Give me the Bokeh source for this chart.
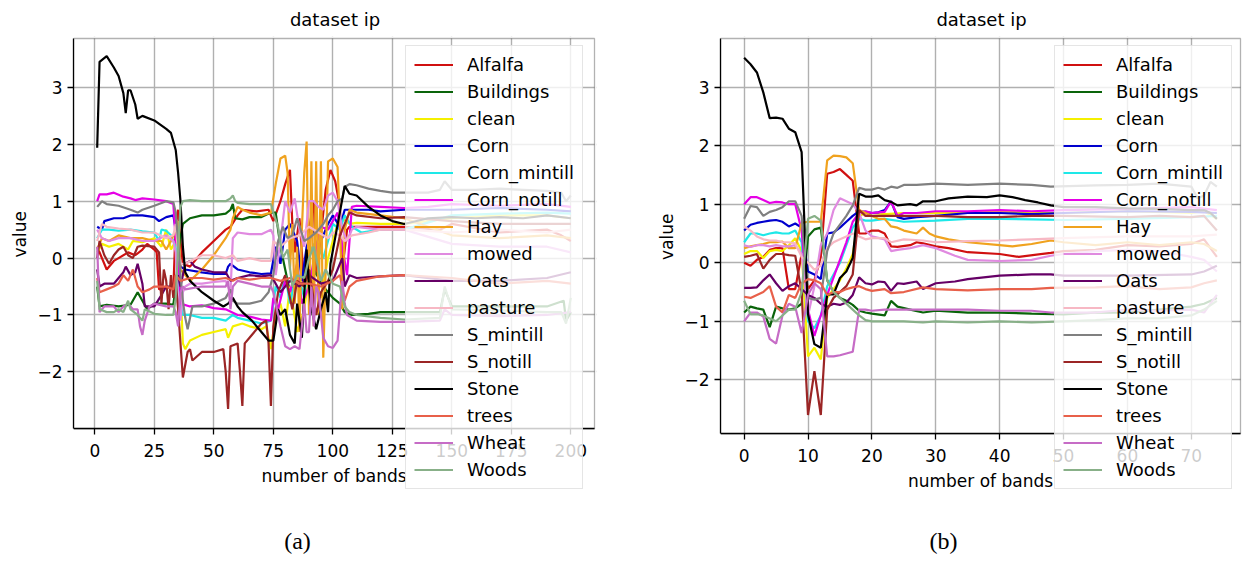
from bokeh.plotting import figure
from bokeh.models import Legend, LegendItem, Label, FixedTicker, Range1d, BoxAnnotation, Title
from bokeh.layouts import row
from bokeh.embed import file_html
from bokeh.resources import INLINE

NAMES = ["Alfalfa", "Buildings", "clean", "Corn", "Corn_mintill", "Corn_notill", "Hay",
         "mowed", "Oats", "pasture", "S_mintill", "S_notill", "Stone", "trees", "Wheat", "Woods"]
COLORS = ["#d01010", "#0a640a", "#f5f000", "#0000cd", "#1ee8e8", "#e600e6", "#f0a21e",
          "#e08ae0", "#660066", "#f7b8c4", "#808080", "#9b2525", "#000000", "#e8604a",
          "#c66cc6", "#88b088"]

# ---------------- panel (a): (band, value) ----------------
A_ALFALFA = [(1,0.2),(3,0.0),(5,-0.2),(8,-0.05),(10,0.0),(14,0.1),(17,0.05),(20,0.15),(22,0.25),(25,0.15),(26,0.1),(27,-0.55),(30,-0.5),(33,-0.55),(34,0.6),(35,0.85),(36,0.3),(37,-0.1),(40,-0.15),(45,0.1),(50,0.3),(55,0.5),(57,0.55),(60,0.75),(62,0.85),(68,0.82),(73,0.85),(75,0.65),(78,1.0),(80,1.3),(82,1.55),(83,0.6),(84,0.1),(86,0.7),(88,-0.5),(90,0.5),(92,1.0),(93,-0.3),(95,0.4),(97,1.2),(99,1.55),(101,1.35),(103,0.9),(104,-0.2),(106,0.5),(107,0.55),(115,0.55),(130,0.55),(145,0.5),(150,0.6),(170,0.45),(190,0.5),(196,0.4),(200,0.3)]
A_BUILDINGS = [(1,-0.5),(2,-0.85),(5,-0.82),(10,-0.85),(15,-0.82),(18,-0.6),(20,-0.75),(22,-0.9),(25,-0.8),(30,-0.8),(33,-0.82),(34,-0.5),(35,0.0),(36,0.35),(37,0.6),(40,0.7),(45,0.75),(50,0.75),(55,0.78),(57,0.85),(58,0.95),(59,0.7),(62,0.68),(65,0.72),(70,0.72),(74,0.8),(76,0.8),(78,0.2),(80,-0.2),(82,-0.6),(85,-0.4),(88,-0.3),(92,-0.2),(96,-0.5),(100,-0.7),(103,-0.8),(105,-0.95),(108,-1.0),(115,-0.98),(120,-0.95),(130,-0.95),(145,-0.95),(147,-0.55),(150,-0.85),(170,-0.85),(190,-0.85),(197,-0.75),(198,-1.1),(200,-0.95)]
A_CLEAN = [(1,0.1),(3,0.25),(6,0.2),(10,0.25),(14,0.15),(16,0.3),(20,0.28),(25,0.35),(28,0.2),(30,0.5),(32,0.15),(34,0.3),(36,-0.5),(37,-1.5),(38,-1.6),(40,-1.45),(45,-1.35),(50,-1.3),(55,-1.25),(56,-1.4),(58,-1.2),(62,-1.15),(65,-1.2),(70,-1.25),(72,-1.2),(74,-1.6),(76,-1.0),(78,-0.8),(80,-1.2),(82,-0.5),(85,-1.3),(88,-0.9),(90,-0.3),(95,-0.7),(98,0.0),(100,0.3),(102,0.6),(104,0.7),(107,0.6),(110,0.62),(120,0.6),(130,0.6),(150,0.7),(170,0.75),(190,0.75),(200,0.7)]
A_CORN = [(1,0.55),(3,0.5),(4,0.65),(8,0.7),(12,0.7),(15,0.75),(20,0.75),(25,0.72),(27,0.65),(30,0.72),(33,0.75),(34,0.5),(35,0.3),(36,-0.15),(38,-0.2),(45,-0.25),(50,-0.28),(55,-0.28),(56,-0.15),(57,-0.1),(60,-0.2),(65,-0.25),(70,-0.28),(74,-0.27),(76,0.2),(78,-0.1),(80,0.5),(82,0.6),(85,0.3),(87,-0.4),(89,0.2),(92,0.5),(95,0.3),(98,0.6),(100,0.75),(103,0.55),(105,0.85),(108,0.85),(115,0.85),(120,0.82),(130,0.85),(150,0.85),(170,0.88),(190,0.85),(200,0.82)]
A_CORN_MINTILL = [(1,0.35),(3,0.5),(6,0.5),(10,0.48),(15,0.5),(20,0.47),(25,0.45),(27,0.3),(28,0.5),(30,0.48),(32,0.4),(34,0.2),(35,-0.2),(36,-0.8),(37,-1.0),(40,-1.0),(45,-1.05),(50,-1.05),(55,-1.1),(58,-1.0),(60,-1.05),(65,-1.1),(70,-1.15),(74,-1.1),(76,-0.5),(78,-0.7),(80,-0.3),(82,-0.8),(85,-0.2),(88,-0.7),(90,0.1),(93,0.3),(96,0.0),(100,0.6),(103,0.5),(105,0.75),(108,0.55),(112,0.45),(120,0.5),(130,0.5),(150,0.75),(170,0.78),(190,0.8),(200,0.78)]
A_CORN_NOTILL = [(1,1.0),(2,1.12),(5,1.12),(8,1.15),(12,1.08),(15,1.05),(17,1.02),(20,1.05),(25,1.03),(30,1.0),(33,0.95),(34,0.3),(35,0.2),(36,-0.8),(40,-0.85),(45,-0.83),(50,-0.88),(55,-0.9),(60,-1.0),(65,-1.03),(70,-1.08),(74,-1.1),(75,-0.7),(77,-0.9),(80,-0.4),(82,-0.6),(85,-0.1),(87,-0.8),(90,-0.5),(93,0.2),(95,0.55),(98,0.5),(100,0.65),(102,0.8),(104,0.2),(106,-0.3),(108,0.9),(110,0.92),(120,0.9),(130,0.88),(140,0.9),(150,0.95),(170,0.92),(190,0.95),(200,0.9)]
A_HAY = [(1,0.15),(3,0.35),(6,0.3),(10,0.4),(15,0.35),(20,0.35),(25,0.3),(28,0.3),(30,0.15),(32,0.3),(34,0.5),(35,0.65),(36,-0.2),(38,-0.3),(40,-0.4),(45,-0.2),(50,0.05),(55,0.35),(57,0.5),(58,0.7),(60,0.9),(62,0.85),(65,0.8),(70,0.75),(74,0.8),(76,1.3),(78,1.75),(80,1.8),(81,1.5),(82,-0.2),(83,0.6),(84,-0.8),(85,0.2),(86,-1.3),(87,0.5),(88,1.5),(89,2.05),(90,-1.0),(91,1.7),(92,-1.2),(93,1.7),(94,-1.0),(95,1.7),(96,-1.75),(97,-0.2),(98,1.7),(100,1.75),(102,1.6),(103,0.6),(104,-0.9),(105,0.5),(107,0.85),(110,0.8),(120,0.75),(130,0.7),(150,0.4),(170,0.35),(190,0.4),(200,0.35)]
A_MOWED = [(1,0.5),(3,0.35),(6,0.3),(10,0.35),(15,0.35),(20,0.3),(25,0.3),(30,0.4),(33,0.3),(34,0.1),(35,-0.8),(36,-1.1),(37,-0.6),(38,-0.5),(40,-0.45),(45,-0.45),(50,-0.42),(55,-0.4),(57,-0.6),(58,0.35),(60,0.45),(65,0.42),(70,0.42),(74,0.5),(75,0.4),(76,-0.3),(78,0.3),(80,1.0),(82,0.8),(84,1.05),(86,0.5),(88,0.2),(90,1.0),(92,1.0),(94,0.9),(96,0.85),(98,1.1),(100,1.15),(102,1.0),(104,0.5),(106,0.3),(108,0.5),(110,0.55),(120,0.5),(130,0.5),(150,0.25),(170,0.2),(190,0.2),(200,0.1)]
A_OATS = [(1,-0.2),(2,-0.5),(4,-0.45),(8,-0.45),(10,-0.35),(12,-0.25),(13,-0.15),(15,-0.3),(17,-0.25),(18,-0.1),(20,-0.45),(21,-0.85),(25,-0.85),(28,-0.65),(30,-0.5),(33,-0.5),(35,-0.3),(36,-0.5),(38,-0.1),(40,-0.05),(42,-0.15),(45,-0.2),(50,-0.25),(55,-0.25),(57,-0.4),(60,-0.35),(65,-0.3),(70,-0.32),(74,-0.3),(78,-0.6),(82,-0.4),(86,-0.5),(90,-0.3),(95,-0.45),(100,-0.4),(103,-0.1),(104,0.0),(105,-0.5),(107,-0.3),(110,-0.35),(120,-0.32),(130,-0.3),(150,-0.4),(170,-0.4),(190,-0.35),(200,-0.25)]
A_PASTURE = [(1,0.3),(3,0.6),(5,0.55),(10,0.52),(15,0.5),(20,0.45),(25,0.45),(30,0.35),(33,0.4),(34,0.6),(35,0.1),(36,-0.1),(38,-0.1),(45,0.05),(50,0.05),(55,0.0),(58,0.05),(60,-0.05),(65,0.0),(70,-0.05),(74,-0.05),(75,0.3),(78,0.2),(82,0.35),(86,0.4),(90,0.55),(94,0.45),(98,0.35),(100,0.45),(103,0.4),(105,0.3),(108,0.4),(115,0.45),(120,0.5),(130,0.5),(150,0.45),(170,0.5),(190,0.45),(200,0.5)]
A_S_MINTILL = [(1,0.9),(3,1.0),(5,0.95),(10,0.92),(15,0.85),(18,0.8),(20,0.85),(25,0.92),(30,1.0),(33,0.98),(34,0.8),(35,0.3),(36,-0.3),(37,-0.75),(38,-1.05),(39,-1.25),(41,-0.85),(45,-0.85),(50,-0.8),(55,-0.7),(57,-0.55),(58,-0.75),(60,-0.8),(65,-0.8),(70,-0.75),(73,-0.6),(75,-0.3),(77,0.3),(79,0.55),(81,0.35),(83,0.4),(85,0.7),(88,0.3),(90,0.35),(93,0.45),(96,0.6),(98,0.75),(100,0.85),(102,1.0),(104,1.05),(105,1.25),(107,1.3),(110,1.28),(115,1.22),(120,1.18),(125,1.15),(130,1.15),(140,1.15),(145,1.2),(147,1.35),(150,1.2),(160,1.2),(170,1.22),(180,1.2),(190,1.18),(196,1.15),(198,1.0),(200,1.1)]
A_S_NOTILL = [(1,0.0),(2,0.3),(4,0.05),(6,-0.1),(8,0.05),(10,0.15),(12,0.2),(14,0.05),(16,0.0),(18,0.2),(20,0.22),(25,0.2),(27,0.1),(28,-0.8),(29,-0.2),(30,-0.4),(31,-0.9),(32,-0.3),(33,-0.7),(34,-0.4),(35,-0.9),(36,-1.5),(37,-2.1),(39,-1.65),(40,-1.6),(41,-1.8),(45,-1.65),(50,-1.65),(54,-1.6),(55,-2.0),(56,-2.65),(57,-1.55),(60,-1.5),(61,-2.0),(62,-2.6),(63,-1.5),(65,-1.4),(70,-1.15),(72,-1.1),(73,-1.5),(74,-2.6),(75,-1.2),(77,-0.6),(80,-0.3),(83,-0.9),(85,-0.4),(88,-0.5),(90,-0.2),(93,-1.0),(95,-0.6),(98,-0.4),(100,-0.2),(103,0.4),(105,0.6),(107,0.8),(110,0.75),(120,0.7),(130,0.72),(150,0.65),(170,0.6),(190,0.6),(200,0.6)]
A_STONE = [(1,1.94),(2,3.45),(5,3.55),(8,3.35),(10,3.2),(12,2.9),(13,2.55),(14,2.95),(15,2.95),(17,2.7),(18,2.45),(20,2.5),(25,2.42),(30,2.27),(32,2.2),(34,1.9),(35,1.5),(36,1.0),(37,0.2),(38,-0.25),(40,-0.4),(45,-0.6),(50,-0.75),(54,-0.85),(56,-0.8),(58,-0.7),(60,-0.85),(62,-0.95),(66,-1.1),(70,-1.3),(73,-1.45),(75,-1.45),(77,-0.9),(78,-1.0),(80,-0.9),(82,-1.35),(84,-1.5),(85,-0.8),(87,-1.4),(89,0.15),(90,-0.5),(91,-0.9),(93,-1.25),(95,-0.9),(97,-0.6),(98,-0.95),(99,-0.1),(105,1.27),(107,1.13),(110,1.1),(115,0.9),(120,0.75),(125,0.65),(130,0.6),(140,0.7),(150,0.72),(160,0.7),(170,0.72),(180,0.7),(190,0.75),(200,0.7)]
A_TREES = [(1,-0.35),(2,-0.6),(5,-0.55),(8,-0.5),(10,-0.45),(12,-0.3),(14,-0.4),(16,-0.2),(18,-0.5),(20,-0.6),(23,-0.55),(25,-0.5),(30,-0.5),(33,-0.55),(34,-0.3),(35,-0.35),(36,-0.4),(40,-0.35),(45,-0.35),(50,-0.38),(55,-0.35),(58,-0.4),(60,-0.35),(65,-0.38),(70,-0.35),(74,-0.35),(78,-0.4),(82,-0.35),(86,-0.45),(90,-0.45),(95,-0.5),(100,-0.4),(103,-0.3),(105,-0.75),(107,-0.5),(110,-0.4),(120,-0.32),(130,-0.3),(150,-0.35),(170,-0.45),(190,-0.4),(200,-0.45)]
A_WHEAT = [(1,0.2),(2,-0.95),(4,-0.85),(8,-0.85),(10,-0.95),(12,-0.85),(14,-0.8),(16,-0.9),(18,-0.9),(19,-1.2),(20,-1.35),(21,-1.1),(23,-0.85),(25,-0.8),(30,-0.85),(33,-0.85),(34,-0.95),(35,-1.2),(36,-0.6),(37,-0.5),(38,-0.55),(45,-0.5),(50,-0.5),(55,-0.5),(56,-0.4),(57,-0.9),(58,-0.5),(60,-0.4),(65,-0.45),(70,-0.5),(74,-0.5),(75,-0.6),(78,-1.2),(80,-1.55),(82,-1.6),(84,-1.55),(86,-1.6),(88,-0.8),(89,-1.3),(90,-1.3),(91,-0.5),(92,-1.2),(93,-0.5),(94,-0.6),(96,-1.4),(98,-1.55),(100,-1.58),(102,-1.45),(103,-0.9),(104,-0.4),(105,-0.8),(106,-1.0),(110,-1.1),(120,-1.12),(130,-1.12),(145,-1.1),(147,-0.9),(150,-1.0),(170,-1.02),(190,-1.0),(200,-0.95)]
A_WOODS = [(1,-0.4),(2,-0.9),(5,-0.95),(8,-0.95),(10,-0.9),(12,-0.95),(14,-0.75),(15,-0.9),(18,-1.0),(20,-1.1),(21,-0.9),(25,-0.98),(30,-1.0),(33,-1.0),(34,-0.7),(35,0.2),(36,0.9),(37,1.0),(40,1.02),(45,1.0),(50,1.0),(55,1.0),(57,1.05),(58,1.1),(59,1.0),(60,0.97),(65,0.95),(70,0.95),(74,0.95),(75,0.8),(77,0.55),(79,0.0),(81,0.15),(83,-0.5),(85,-0.3),(88,-0.35),(90,0.0),(92,0.2),(95,-0.4),(97,-0.2),(100,-0.45),(103,-0.5),(105,-0.85),(107,-0.95),(110,-1.0),(120,-1.05),(130,-1.08),(145,-1.05),(147,-0.5),(150,-0.9),(170,-0.92),(190,-0.95),(196,-0.95),(198,-1.15),(200,-0.7)]

# ---------------- panel (b): (band, value) ----------------
B_ALFALFA = [(0,0.0),(1,-0.05),(2,0.05),(3,0.1),(4,0.22),(5,0.25),(6,0.25),(7,-0.45),(8,-0.45),(9,0.15),(10,-0.45),(11,-0.3),(12,0.1),(13,1.52),(14,1.55),(15,1.6),(16,1.5),(17,1.4),(18,0.5),(19,0.5),(20,0.55),(21,0.55),(22,0.5),(23,0.28),(24,0.27),(26,0.3),(27,0.35),(28,0.33),(30,0.28),(32,0.25),(35,0.18),(40,0.15),(43,0.1),(48,0.17),(50,0.2),(55,0.22),(60,0.3),(65,0.28),(70,0.32),(72,0.4),(74,0.1)]
B_BUILDINGS = [(0,-0.85),(1,-0.75),(2,-0.78),(3,-0.8),(4,-1.1),(5,-0.75),(6,-0.78),(7,-0.8),(8,-0.78),(9,-0.7),(10,0.45),(11,0.57),(12,0.6),(13,-0.3),(14,-0.5),(15,-0.6),(16,-0.65),(17,-0.72),(18,-0.82),(19,-0.85),(20,-0.87),(22,-0.9),(23,-0.65),(24,-0.75),(26,-0.8),(28,-0.85),(30,-0.82),(35,-0.85),(40,-0.85),(45,-0.87),(50,-0.88),(55,-0.85),(60,-0.85),(65,-0.8),(70,-0.75),(72,-0.7),(74,-0.6)]
B_CLEAN = [(0,0.15),(1,0.2),(2,0.2),(3,0.08),(4,0.2),(5,0.22),(6,0.2),(7,0.3),(8,0.42),(9,0.2),(10,-1.6),(11,-1.45),(12,-1.65),(13,-0.6),(14,-0.45),(15,-0.3),(16,-0.1),(17,0.15),(18,0.8),(19,0.85),(20,0.85),(22,0.83),(25,0.85),(30,0.85),(35,0.85),(40,0.88),(45,0.85),(50,0.85),(60,0.88),(70,0.85),(72,0.88),(74,0.75)]
B_CORN = [(0,0.55),(1,0.65),(2,0.68),(3,0.7),(4,0.72),(5,0.73),(6,0.7),(7,0.62),(8,0.67),(9,0.6),(10,-0.15),(11,-0.2),(12,-0.28),(13,0.5),(14,0.52),(15,0.6),(16,0.7),(17,0.8),(18,0.88),(19,0.87),(20,0.85),(21,0.86),(22,0.9),(23,1.05),(24,0.78),(25,0.75),(27,0.78),(30,0.8),(35,0.85),(40,0.85),(45,0.83),(50,0.85),(60,0.88),(70,0.87),(74,0.85)]
B_CORN_MINTILL = [(0,0.35),(1,0.5),(2,0.5),(3,0.47),(4,0.5),(5,0.52),(6,0.5),(7,0.5),(8,0.55),(9,0.35),(10,-1.0),(11,-1.12),(12,-0.9),(13,-0.4),(14,-0.2),(15,0.0),(16,0.3),(17,0.6),(18,0.75),(19,0.72),(20,0.72),(22,0.75),(25,0.7),(30,0.72),(35,0.75),(40,0.75),(45,0.74),(50,0.73),(60,0.75),(70,0.78),(74,0.8)]
B_CORN_NOTILL = [(0,1.0),(1,1.12),(2,1.12),(3,1.07),(4,1.02),(5,1.04),(6,1.03),(7,1.0),(8,1.0),(9,0.55),(10,-0.8),(11,-1.25),(12,-0.9),(13,-0.55),(14,-0.25),(15,0.05),(16,0.35),(17,0.7),(18,0.85),(19,0.88),(20,0.85),(21,0.86),(22,0.87),(23,1.05),(24,0.8),(25,0.85),(27,0.85),(30,0.88),(35,0.88),(40,0.9),(45,0.88),(50,0.9),(60,0.92),(70,0.95),(74,0.9)]
B_HAY = [(0,0.25),(1,0.28),(2,0.3),(3,0.32),(4,0.35),(5,0.35),(6,0.36),(7,0.25),(8,0.25),(9,0.68),(10,0.7),(11,0.7),(12,0.7),(13,1.75),(14,1.83),(15,1.82),(16,1.8),(17,1.7),(18,0.9),(19,0.85),(20,0.8),(21,0.75),(22,0.75),(23,0.62),(24,0.6),(25,0.55),(27,0.5),(28,0.6),(29,0.5),(30,0.45),(32,0.4),(35,0.35),(40,0.3),(42,0.28),(45,0.32),(48,0.38),(50,0.35),(55,0.3),(60,0.35),(65,0.3),(70,0.35),(72,0.32),(74,0.2)]
B_MOWED = [(0,0.3),(1,0.27),(2,0.3),(3,0.3),(4,0.28),(5,0.3),(6,0.28),(7,0.28),(8,0.3),(9,0.15),(10,-0.9),(11,-0.4),(12,0.3),(13,0.5),(14,0.9),(15,1.1),(16,1.05),(17,1.0),(18,0.85),(19,0.55),(20,0.45),(22,0.4),(23,0.2),(24,0.22),(26,0.25),(28,0.3),(30,0.25),(33,0.12),(35,0.05),(40,0.03),(45,0.05),(48,0.12),(50,0.15),(55,0.2),(60,0.22),(65,0.2),(70,0.1),(72,0.05),(74,-0.15)]
B_OATS = [(0,-0.43),(1,-0.43),(2,-0.42),(3,-0.3),(4,-0.2),(5,-0.35),(6,-0.48),(7,-0.4),(8,-0.35),(9,-0.45),(10,-0.55),(11,-0.6),(12,-0.7),(13,-0.75),(14,-0.7),(15,-0.72),(16,-0.68),(17,-0.55),(18,-0.25),(19,-0.35),(20,-0.37),(21,-0.32),(22,-0.33),(23,-0.48),(24,-0.35),(25,-0.36),(27,-0.32),(28,-0.45),(30,-0.35),(33,-0.32),(35,-0.28),(40,-0.22),(45,-0.2),(48,-0.2),(50,-0.22),(60,-0.22),(70,-0.2),(72,-0.15),(74,-0.05)]
B_PASTURE = [(0,0.62),(1,0.55),(2,0.45),(3,0.4),(4,0.38),(5,0.38),(6,0.35),(7,0.35),(8,0.33),(9,0.1),(10,0.0),(11,-0.12),(12,-0.05),(13,0.25),(14,0.35),(15,0.4),(16,0.45),(17,0.5),(18,0.45),(19,0.4),(20,0.42),(22,0.42),(23,0.35),(25,0.4),(28,0.38),(30,0.35),(35,0.37),(40,0.38),(45,0.4),(50,0.42),(60,0.45),(70,0.45),(74,0.48)]
B_S_MINTILL = [(0,0.75),(1,0.97),(2,0.95),(3,0.8),(4,0.87),(5,0.9),(6,0.95),(7,1.05),(8,1.05),(9,0.8),(10,-0.6),(11,-0.63),(12,-0.6),(13,0.2),(14,0.5),(15,0.65),(16,0.8),(17,0.98),(18,1.28),(19,1.25),(20,1.25),(21,1.28),(22,1.25),(23,1.3),(24,1.28),(25,1.33),(27,1.33),(30,1.35),(35,1.33),(40,1.35),(45,1.33),(48,1.3),(55,1.32),(60,1.33),(65,1.35),(70,1.3),(71,1.1),(72,1.15),(73,1.38),(74,1.3)]
B_S_NOTILL = [(0,0.1),(1,0.12),(2,0.15),(3,-0.1),(4,0.05),(5,0.15),(6,0.15),(7,0.13),(8,0.12),(9,-0.5),(10,-2.6),(11,-1.85),(12,-2.6),(13,-0.8),(14,-0.6),(15,-0.5),(16,-0.4),(17,-0.2),(18,0.9),(19,0.8),(20,0.8),(25,0.8),(30,0.8),(35,0.78),(40,0.78),(45,0.8),(50,0.8),(60,0.78),(65,0.8),(70,0.78),(72,0.8),(74,0.55)]
B_STONE = [(0,3.5),(1,3.39),(2,3.25),(3,2.91),(4,2.47),(5,2.48),(6,2.46),(7,2.29),(8,2.23),(9,1.89),(10,-0.88),(11,-1.39),(12,-1.45),(13,-0.54),(14,-0.54),(15,-0.26),(16,-0.15),(17,0.08),(18,1.18),(19,1.13),(20,1.13),(21,1.15),(22,1.07),(23,1.04),(24,0.98),(26,1.0),(27,0.98),(28,1.05),(30,1.05),(32,1.1),(35,1.13),(38,1.12),(40,1.15),(42,1.12),(44,1.07),(46,1.03),(48,0.98),(50,0.95),(55,0.95),(60,0.93),(65,0.92),(70,0.9),(72,0.9),(73,0.85),(74,0.75)]
B_TREES = [(0,-0.58),(1,-0.6),(2,-0.55),(3,-0.5),(4,-0.4),(5,-0.75),(6,-0.85),(7,-0.55),(8,-0.6),(9,-0.35),(10,-0.28),(11,-0.3),(12,-0.35),(13,-0.55),(14,-0.5),(15,-0.5),(16,-0.45),(17,-0.42),(18,-0.4),(19,-0.45),(20,-0.48),(22,-0.45),(23,-0.52),(25,-0.5),(28,-0.42),(30,-0.45),(35,-0.47),(40,-0.45),(45,-0.45),(48,-0.43),(55,-0.42),(60,-0.4),(65,-0.45),(70,-0.42),(72,-0.35),(74,-0.3)]
B_WHEAT = [(0,-1.0),(1,-0.85),(2,-0.85),(3,-0.92),(4,-1.3),(5,-1.38),(6,-0.9),(7,-0.7),(8,-0.75),(9,-1.2),(10,-0.55),(11,-0.35),(12,-0.45),(13,-1.6),(14,-1.6),(15,-1.58),(16,-1.55),(17,-1.52),(18,-0.8),(19,-0.8),(20,-0.82),(22,-0.8),(25,-0.8),(30,-0.8),(35,-0.8),(40,-0.82),(45,-0.82),(48,-0.85),(55,-0.85),(60,-0.8),(65,-0.82),(70,-0.8),(72,-0.85),(74,-0.55)]
B_WOODS = [(0,-0.65),(1,-0.88),(2,-0.88),(3,-0.9),(4,-0.95),(5,-1.0),(6,-0.9),(7,-0.8),(8,-0.8),(9,-0.5),(10,0.75),(11,0.8),(12,0.72),(13,-0.3),(14,-0.5),(15,-0.6),(16,-0.7),(17,-0.8),(18,-0.9),(19,-0.98),(20,-1.0),(25,-1.0),(28,-1.02),(30,-1.0),(35,-1.02),(40,-1.0),(45,-1.02),(50,-1.0),(55,-0.98),(60,-0.95),(65,-0.95),(70,-0.9),(72,-0.8),(74,-0.65)]

A_SERIES = [A_ALFALFA, A_BUILDINGS, A_CLEAN, A_CORN, A_CORN_MINTILL, A_CORN_NOTILL, A_HAY, A_MOWED,
            A_OATS, A_PASTURE, A_S_MINTILL, A_S_NOTILL, A_STONE, A_TREES, A_WHEAT, A_WOODS]
B_SERIES = [B_ALFALFA, B_BUILDINGS, B_CLEAN, B_CORN, B_CORN_MINTILL, B_CORN_NOTILL, B_HAY, B_MOWED,
            B_OATS, B_PASTURE, B_S_MINTILL, B_S_NOTILL, B_STONE, B_TREES, B_WHEAT, B_WOODS]

A_XTICKS = [0, 25, 50, 75, 100, 125, 150, 175, 200]
B_XTICKS = [0, 10, 20, 30, 40, 50, 60, 70]
Y_TICKS = [-2, -1, 0, 1, 2, 3]
A_XLIM = (-8.95, 209.95)
A_YLIM = (-3.0, 3.86)
B_XLIM = (-3.7, 77.7)
B_YLIM = (-2.92, 3.83)

FONT = "DejaVu Sans"
FIG_H = 556
FRAME_TOP = 35
LEG_PAD = 8
LEG_ITEM = 21
LEG_GAP = 6


def make_panel(series, xlim, ylim, xticks, fig_left, fig_w, spine_l, spine_r, spine_t, spine_b,
               frame_r, legend_left, legend_top, tag, tag_x, tag_y):
    x0, x1 = xlim
    y0, y1 = ylim
    sx = (spine_r - spine_l) / (x1 - x0)
    sy = (spine_b - spine_t) / (y1 - y0)
    xr = Range1d(x0, x1 + (frame_r - spine_r) / sx)
    yr = Range1d(y0 - (FIG_H - spine_b) / sy, y1 + (spine_t - FRAME_TOP) / sy)

    p = figure(width=fig_w, height=FIG_H, x_range=xr, y_range=yr,
               output_backend="svg", toolbar_location=None,
               min_border_left=spine_l - fig_left, min_border_right=fig_left + fig_w - frame_r,
               min_border_top=FRAME_TOP, min_border_bottom=0)
    p.title.text = "dataset ip"
    p.title.align = "center"
    p.title.text_font = FONT
    p.title.text_font_size = "18px"
    p.title.text_font_style = "normal"
    p.title.text_color = "black"
    p.title.standoff = 13
    p.background_fill_color = "white"
    p.border_fill_color = "white"
    p.outline_line_color = None

    for ax in (p.xaxis[0], p.yaxis[0]):
        ax.major_label_text_font = FONT
        ax.major_label_text_font_size = "17px"
        ax.major_label_text_color = "black"
        ax.axis_line_color = "black"
        ax.axis_line_width = 1.3
        ax.major_tick_line_color = "black"
        ax.major_tick_line_width = 1.3
        ax.major_tick_out = 6
        ax.major_tick_in = 0
        ax.minor_tick_line_color = None
    p.xaxis.major_label_standoff = 9
    p.xaxis.ticker = FixedTicker(ticks=xticks)
    p.yaxis.ticker = FixedTicker(ticks=Y_TICKS)
    p.yaxis.major_label_overrides = {t: ("\u2212%d" % -t if t < 0 else str(t)) for t in Y_TICKS}
    p.xaxis.fixed_location = y0
    p.xaxis.bounds = (x0, x1)
    p.yaxis.bounds = (y0, y1)
    p.grid.grid_line_color = "#b0b0b0"
    p.grid.grid_line_width = 1.4

    # y-axis label as a vertical title in the left panel, centred on the axes box
    text_half = 23
    p.add_layout(Title(text="value", align="right",
                       offset=(spine_t + spine_b) / 2 - text_half - FRAME_TOP,
                       text_font=FONT, text_font_size="17px", text_font_style="normal",
                       text_color="black", standoff=10), "left")

    # hide grid outside the axes box
    for kw in (dict(top=y0), dict(bottom=y1), dict(left=x1)):
        p.add_layout(BoxAnnotation(fill_color="white", fill_alpha=1.0, line_color=None,
                                   level="underlay", **kw))

    items = []
    for name, color, pts in zip(NAMES, COLORS, series):
        xs = [q[0] for q in pts]
        ys = [q[1] for q in pts]
        r = p.line(xs, ys, line_color=color, line_width=2.2)
        items.append(LegendItem(label=name, renderers=[r]))

    # axes box (spines)
    p.add_layout(BoxAnnotation(left=x0, right=x1, bottom=y0, top=y1, fill_color=None,
                               fill_alpha=0, line_color="black", line_width=1.3))

    p.add_layout(Label(x=(x0 + x1) / 2, y=y0, y_offset=-47, text="number of bands",
                       text_align="center", text_baseline="middle", text_font=FONT,
                       text_font_size="17px", text_color="black"))
    p.add_layout(Label(x=x0 + (tag_x - spine_l) / sx, y=y0 - (tag_y - spine_b) / sy, text=tag,
                       text_align="center", text_baseline="middle",
                       text_font="Liberation Serif", text_font_size="24px", text_color="black"))

    leg_h = 2 * LEG_PAD + 16 * LEG_ITEM + 15 * LEG_GAP
    leg = Legend(items=items, location=(legend_left - spine_l, FIG_H - (legend_top + leg_h)),
                 label_text_font=FONT, label_text_font_size="18px", label_text_color="black",
                 glyph_width=39, glyph_height=LEG_ITEM, label_height=LEG_ITEM, label_standoff=14,
                 spacing=LEG_GAP, padding=LEG_PAD, margin=0,
                 border_line_color="#cccccc", border_line_width=1,
                 background_fill_color="white", background_fill_alpha=0.8)
    p.add_layout(leg)
    return p


p1 = make_panel(A_SERIES, A_XLIM, A_YLIM, A_XTICKS, fig_left=0, fig_w=640,
                spine_l=73, spine_r=594, spine_t=37, spine_b=428, frame_r=596,
                legend_left=405, legend_top=47, tag="(a)", tag_x=297, tag_y=540)
p2 = make_panel(B_SERIES, B_XLIM, B_YLIM, B_XTICKS, fig_left=640, fig_w=602,
                spine_l=720, spine_r=1240, spine_t=37, spine_b=433, frame_r=1242,
                legend_left=1054, legend_top=47, tag="(b)", tag_x=943, tag_y=540)

layout = row(p1, p2)
open("out.html", "w").write(file_html(layout, INLINE))
